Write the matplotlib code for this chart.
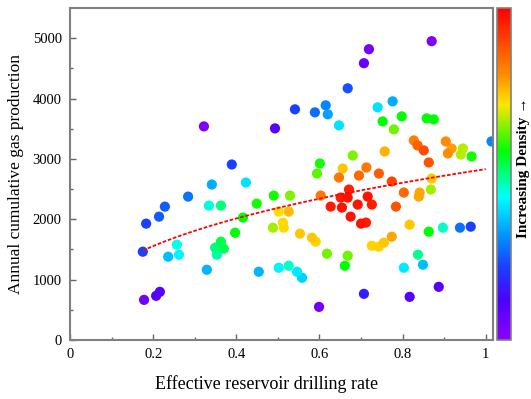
import numpy as np
import matplotlib
matplotlib.use("Agg")
import matplotlib.pyplot as plt
from matplotlib.colors import LinearSegmentedColormap, Normalize
from matplotlib.cm import ScalarMappable

# drilling rate / gas production / point density (0 = low, 1 = high)
drill_rate = [0.178, 0.207, 0.216, 0.175, 0.183, 0.214, 0.228, 0.284, 0.236, 0.257,
              0.262, 0.322, 0.389, 0.341, 0.423, 0.334, 0.363, 0.329, 0.349, 0.363,
              0.370, 0.353, 0.397, 0.416, 0.449, 0.490, 0.454, 0.493, 0.502, 0.526,
              0.546, 0.558, 0.529, 0.502, 0.526, 0.488, 0.512, 0.514, 0.553, 0.582,
              0.591, 0.618, 0.668, 0.661, 0.599, 0.707, 0.817, 0.887, 0.803, 0.837,
              0.849, 0.726, 0.743, 0.755, 0.774, 0.817, 0.863, 0.897, 0.938, 0.964,
              0.603, 0.627, 0.651, 0.654, 0.671, 0.668, 0.692, 0.675, 0.700, 0.712,
              0.716, 0.726, 0.784, 0.774, 0.803, 0.839, 0.841, 0.868, 0.870, 0.647,
              0.695, 0.713, 0.743, 0.656, 0.601, 0.594, 0.680, 0.757, 0.827, 0.836,
              0.851, 0.863, 0.904, 0.909, 0.918, 0.945, 0.940, 0.966, 1.014, 0.752,
              0.798, 0.779, 0.858, 0.875, 0.740, 0.776, 0.647, 0.541, 0.589, 0.615,
              0.620, 0.668, 0.707, 0.719, 0.870]
gas_prod = [664, 731, 797, 1462, 1927, 2043, 2209, 2375, 1379, 1578,
            1412, 3538, 2907, 2575, 2608, 2226, 2226, 1163, 1528, 1628,
            1512, 1412, 1777, 2027, 2259, 2392, 1130, 3505, 1196, 1229,
            1130, 1030, 2392, 2126, 2126, 1860, 1944, 1860, 1761, 1694,
            1628, 1429, 1395, 1229, 548, 764, 714, 880, 1196, 1412,
            1246, 1561, 1545, 1611, 1711, 1910, 1794, 1860, 1860, 1877,
            2392, 2209, 2359, 2193, 2492, 2359, 2243, 2043, 1927, 1944,
            2375, 2243, 2209, 2625, 2442, 2375, 2442, 2492, 2674, 2691,
            2724, 2857, 2757, 2840, 2924, 2757, 3056, 3123, 3306, 3223,
            3140, 2940, 3289, 3090, 3173, 3173, 3073, 3040, 3289, 3621,
            3704, 3488, 3671, 3654, 3854, 3953, 3555, 3821, 3771, 3887,
            3738, 4169, 4585, 4817, 4950]
density = [0.05, 0.10, 0.10, 0.22, 0.22, 0.25, 0.25, 0.28, 0.36, 0.44,
           0.42, 0.03, 0.22, 0.34, 0.40, 0.45, 0.50, 0.35, 0.50, 0.53,
           0.52, 0.48, 0.57, 0.57, 0.58, 0.58, 0.35, 0.10, 0.42, 0.46,
           0.41, 0.38, 0.64, 0.72, 0.75, 0.66, 0.72, 0.72, 0.74, 0.74,
           0.73, 0.63, 0.63, 0.57, 0.05, 0.17, 0.10, 0.10, 0.41, 0.49,
           0.36, 0.73, 0.73, 0.74, 0.77, 0.74, 0.57, 0.46, 0.28, 0.22,
           0.83, 0.96, 0.96, 0.97, 0.95, 0.97, 0.97, 0.97, 0.97, 0.96,
           0.97, 0.96, 0.88, 0.90, 0.85, 0.77, 0.77, 0.66, 0.74, 0.83,
           0.85, 0.83, 0.87, 0.74, 0.58, 0.62, 0.64, 0.76, 0.82, 0.86,
           0.89, 0.88, 0.80, 0.80, 0.78, 0.67, 0.67, 0.58, 0.30, 0.57,
           0.57, 0.63, 0.57, 0.57, 0.40, 0.34, 0.40, 0.22, 0.27, 0.30,
           0.33, 0.24, 0.07, 0.04, 0.03]

# power-law trend  y = a * x^b
trend_a = 2830
trend_b = 0.372
trend_range = [0.175, 1.0]

x = np.array(drill_rate)
y = np.array(gas_prod)
c = np.array(density)
order = np.argsort(c)  # densest points drawn last

cmap = LinearSegmentedColormap.from_list("dens", [
    (0.00, (0.55, 0.00, 1.00)),
    (0.12, (0.30, 0.00, 1.00)),
    (0.22, (0.10, 0.25, 1.00)),
    (0.32, (0.00, 0.60, 1.00)),
    (0.43, (0.00, 1.00, 1.00)),
    (0.57, (0.00, 1.00, 0.00)),
    (0.71, (1.00, 0.90, 0.00)),
    (0.80, (1.00, 0.55, 0.00)),
    (1.00, (1.00, 0.00, 0.00)),
])

plt.rcParams['font.family'] = ['Liberation Serif', 'DejaVu Serif']

fig = plt.figure(figsize=(5.31, 3.99), dpi=100)
ax = fig.add_axes([0.132, 0.148, 0.796, 0.832])
ax.scatter(x[order], y[order], c=c[order], cmap=cmap, vmin=0, vmax=1,
           s=54, linewidths=0, zorder=2)

xt = np.linspace(trend_range[0], trend_range[1], 100)
ax.plot(xt, trend_a * xt ** trend_b, color='red', lw=1.3,
        linestyle=(0, (2, 1)), zorder=3)

ax.set_xlim(0, 1.017)
ax.set_ylim(0, 5500)
ax.set_xticks([0, 0.2, 0.4, 0.6, 0.8, 1.0])
ax.set_xticklabels(['0', '0.2', '0.4', '0.6', '0.8', '1'])
ax.set_xticks(np.arange(0.1, 1.0, 0.2), minor=True)
ax.set_yticks(np.arange(0, 5001, 1000))
ax.set_yticks(np.arange(500, 5001, 1000), minor=True)
ax.tick_params(which='both', direction='in', color='0.4', labelsize=10.5,
               top=False, right=False, pad=6)
ax.tick_params(which='major', length=4, width=1)
ax.tick_params(which='minor', length=2.5, width=1)
for s in ax.spines.values():
    s.set_color('0.5')
    s.set_linewidth(1.5)
ax.set_xlabel('Effective reservoir drilling rate', fontsize=13)
ax.xaxis.set_label_coords(0.465, -0.105)
ax.set_ylabel('Annual cumulative gas production', fontsize=12.5, labelpad=6)

cax = fig.add_axes([0.936, 0.148, 0.027, 0.832])
cb = fig.colorbar(ScalarMappable(norm=Normalize(0, 1), cmap=cmap), cax=cax)
cb.set_ticks([])
cb.outline.set_edgecolor('0.5')
cb.outline.set_linewidth(1.2)
fig.text(0.986, 0.58, 'Increasing Density \u2192', rotation=90, ha='center',
         va='center', fontsize=11, fontweight='bold')

fig.savefig('out.png', dpi=100)
